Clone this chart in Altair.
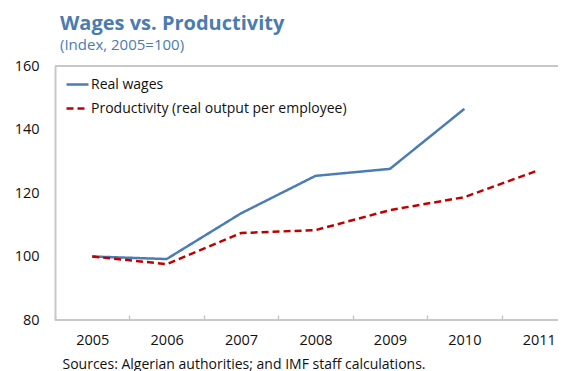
import altair as alt
import pandas as pd

years = ["2005", "2006", "2007", "2008", "2009", "2010", "2011"]
real_wages = [100.0, 99.2, 113.6, 125.4, 127.6, 146.5, None]
productivity = [100.0, 97.6, 107.4, 108.3, 114.6, 118.7, 127.2]
series_names = ["Real wages", "Productivity (real output per employee)"]
y_ticks = [80, 100, 120, 140, 160]
y_domain = [80, 160]

rows = []
for yr, w, p in zip(years, real_wages, productivity):
    if w is not None:
        rows.append({"year": yr, "series": series_names[0], "value": w})
    if p is not None:
        rows.append({"year": yr, "series": series_names[1], "value": p})
df = pd.DataFrame(rows)

FONT = "Open Sans"
BLUE = "#4a7db4"
RED = "#c00000"
TITLE_BLUE = "#4a7cb0"
FRAME = "#c8c8c8"

x_enc = alt.X(
    "year:O",
    sort=years,
    scale=alt.Scale(type="band", paddingInner=0, paddingOuter=0, range=[0, 521]),
    axis=alt.Axis(
        title="Sources: Algerian authorities; and IMF staff calculations.",
        titleFont=FONT,
        titleFontSize=14,
        titleFontWeight="normal",
        titleColor="#111111",
        titleAnchor="start",
        titleAlign="left",
        titleBaseline="alphabetic",
        titleX=7,
        titleY=53,
        labelAngle=0,
        labelFont=FONT,
        labelFontSize=14.5,
        labelColor="#111111",
        labelPadding=13,
        tickBand="extent",
        tickSize=5,
        tickColor=FRAME,
        tickWidth=1.5,
        offset=-5,
        domain=False,
        grid=False,
    ),
)

y_enc = alt.Y(
    "value:Q",
    scale=alt.Scale(domain=y_domain, nice=False, zero=False),
    axis=alt.Axis(
        title=None,
        values=y_ticks,
        labelFont=FONT,
        labelFontSize=14.5,
        labelColor="#111111",
        labelPadding=16,
        ticks=False,
        domain=True,
        domainColor=FRAME,
        domainWidth=2,
        grid=False,
    ),
)

lines = (
    alt.Chart(df)
    .mark_line(strokeWidth=2.5)
    .encode(
        x=x_enc,
        y=y_enc,
        color=alt.Color(
            "series:N",
            sort=series_names,
            scale=alt.Scale(domain=series_names, range=[BLUE, RED]),
            legend=alt.Legend(
                title=None,
                orient="none",
                legendX=10,
                legendY=6,
                padding=0,
                labelFont=FONT,
                labelFontSize=14,
                labelColor="#111111",
                labelLimit=400,
                symbolType="stroke",
                symbolSize=484,
                symbolStrokeWidth=2.5,
                labelOffset=1,
                rowPadding=4,
            ),
        ),
        strokeDash=alt.StrokeDash(
            "series:N",
            sort=series_names,
            scale=alt.Scale(domain=series_names, range=[[1, 0], [7, 4]]),
            legend=None,
        ),
    )
)

top_rule = alt.Chart().mark_rule(color=FRAME, strokeWidth=2).encode(y=alt.datum(y_domain[1]))
bottom_rule = alt.Chart().mark_rule(color=FRAME, strokeWidth=2).encode(y=alt.datum(y_domain[0]))

chart = (
    alt.layer(top_rule, bottom_rule, lines)
    .properties(
        width=503,
        height=254,
        autosize=alt.AutoSizeParams(type="none"),
        padding={"left": 47, "top": 58, "right": 0, "bottom": 51},
        title=alt.TitleParams(
            text="Wages vs. Productivity",
            subtitle="(Index, 2005=100)",
            anchor="start",
            frame="group",
            dx=5,
            offset=5,
            font=FONT,
            fontSize=20,
            fontWeight="bold",
            color=TITLE_BLUE,
            subtitleFont=FONT,
            subtitleFontSize=15,
            subtitleColor=TITLE_BLUE,
            subtitlePadding=4,
        ),
    )
    .configure_view(stroke=None)
)

chart.save("out.html", embed_options={"renderer": "svg", "actions": False})
